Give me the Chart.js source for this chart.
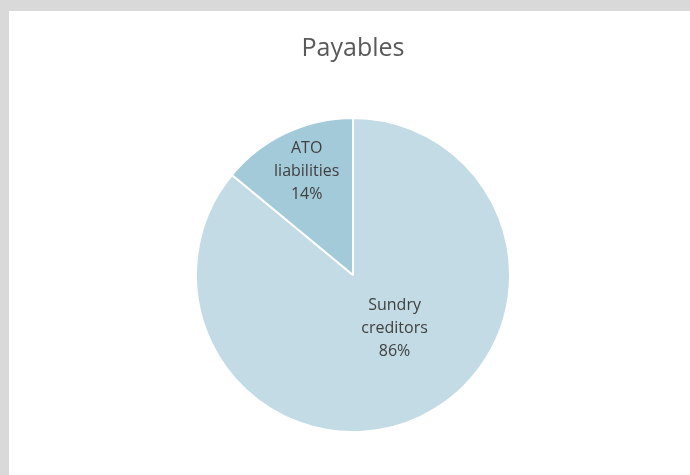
<!DOCTYPE html>
<html>
<head>
<meta charset="utf-8">
<script src="https://cdn.jsdelivr.net/npm/chart.js@4/dist/chart.umd.min.js"></script>
<style>
    html, body { margin: 0; padding: 0; background: #d9d9d9; }
    #painel { position: absolute; left: 9px; top: 11px; width: 681px; height: 464px; background: #ffffff; }
</style>
</head>
<body>
<div id="painel"><canvas id="grafico-pagar" width="681" height="464"></canvas></div>
<script>
// Dados do gráfico
const categorias = [["Sundry", "creditors"], ["ATO", "liabilities"]];
const valores = [86, 14];
const cores = ["#c2dbe4", "#a3cad9"];

// Posição dos rótulos: fração do raio e deslocamento do ângulo (graus)
const posRotulos = [
    { raio: 0.43, desvio: -12.8 },
    { raio: 0.72, desvio: 1 }
];

const rotulosDentro = {
    id: "rotulosDentro",
    afterDatasetsDraw(chart) {
        const ctx = chart.ctx;
        const meta = chart.getDatasetMeta(0);
        const total = valores.reduce((a, b) => a + b, 0);
        ctx.save();
        ctx.font = "16px 'Open Sans'";
        ctx.fillStyle = "#404040";
        ctx.textAlign = "center";
        ctx.textBaseline = "middle";
        meta.data.forEach((arco, i) => {
            const p = arco.getProps(["x", "y", "startAngle", "endAngle", "outerRadius"], true);
            const ang = (p.startAngle + p.endAngle) / 2 + posRotulos[i].desvio * Math.PI / 180;
            const r = p.outerRadius * posRotulos[i].raio;
            const cx = p.x + Math.cos(ang) * r;
            const cy = p.y + Math.sin(ang) * r;
            const linhas = categorias[i].concat([Math.round(valores[i] / total * 100) + "%"]);
            const alt = 23;
            linhas.forEach((t, k) => {
                ctx.fillText(t, cx, cy + (k - (linhas.length - 1) / 2) * alt);
            });
        });
        ctx.restore();
    }
};

new Chart(document.getElementById("grafico-pagar"), {
    type: "pie",
    data: {
        labels: categorias.map(c => c.join(" ")),
        datasets: [{
            data: valores,
            backgroundColor: cores,
            borderColor: "#ffffff",
            borderWidth: 2
        }]
    },
    options: {
        responsive: false,
        animation: false,
        layout: { padding: { top: 0, bottom: 42, left: 7, right: 0 } },
        plugins: {
            legend: { display: false },
            tooltip: { enabled: false },
            title: {
                display: true,
                text: "Payables",
                color: "#595959",
                font: { family: "'Open Sans'", size: 25, weight: "normal", lineHeight: 1.2 },
                padding: { top: 23, bottom: 53 }
            }
        }
    },
    plugins: [rotulosDentro]
});
</script>
</body>
</html>
